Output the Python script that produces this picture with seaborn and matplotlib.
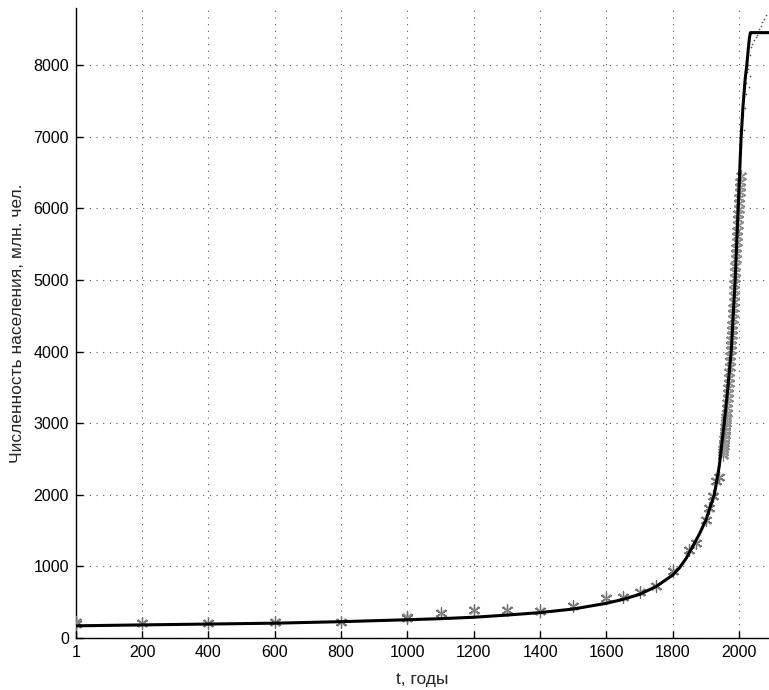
import numpy as np
import pandas as pd
import matplotlib
matplotlib.use("Agg")
import matplotlib.pyplot as plt
import seaborn as sns

# Model curve (year, population, mln)
curve_years = [1, 200, 400, 600, 800, 1000, 1100, 1200, 1300, 1400, 1500, 1600,
               1650, 1700, 1750, 1800, 1820, 1840, 1860, 1880, 1900, 1925, 1940, 1955,
               1965, 1976, 1988, 1997, 2006, 2012, 2018, 2023, 2028, 2031, 2034, 2090]
curve_values = [170, 183, 195, 207, 228, 255, 270, 290, 320, 355, 405, 485,
                540, 610, 720, 880, 980, 1110, 1280, 1450, 1650, 2000, 2400, 3000,
                3450, 4000, 5000, 6000, 7000, 7450, 7800, 8000, 8250, 8380, 8456, 8456]

# Historical estimates (markers)
hist_years = [1, 1, 200, 400, 600, 800, 1000, 1000, 1100, 1200, 1300, 1400, 1500,
              1600, 1650, 1700, 1750, 1800, 1850, 1870, 1900, 1910, 1920, 1930, 1940]
hist_values = [200, 230, 210, 205, 218, 225, 283, 300, 349, 395, 385, 372, 451,
               558, 572, 637, 730, 930, 1233, 1327, 1642, 1815, 1978, 2187, 2250]

# Annual data 1950-2005
mod_years = list(range(1950, 2006))
mod_values = [2557, 2594, 2636, 2682, 2730, 2782, 2835, 2891, 2948, 3001,
              3043, 3084, 3140, 3210, 3281, 3350, 3421, 3490, 3562, 3637,
              3713, 3790, 3867, 3942, 4017, 4089, 4160, 4232, 4304, 4379,
              4451, 4534, 4615, 4696, 4775, 4856, 4941, 5027, 5115, 5201,
              5289, 5372, 5453, 5533, 5612, 5690, 5768, 5846, 5922, 5998,
              6074, 6149, 6224, 6299, 6374, 6450]

# Projection dots
proj_years = [2012, 2015, 2018, 2020, 2022, 2024, 2026, 2028, 2030, 2032, 2034,
              2036, 2040, 2045, 2050, 2055, 2060, 2065, 2070, 2075, 2080]
proj_values = [7300, 7100, 7400, 7600, 7750, 7900, 8000, 7950, 7700, 7850, 8150,
               8250, 8300, 8350, 8400, 8420, 8500, 8550, 8600, 8650, 8700]

xticks = [1, 200, 400, 600, 800, 1000, 1200, 1400, 1600, 1800, 2000]
yticks = [0, 1000, 2000, 3000, 4000, 5000, 6000, 7000, 8000]

sns.set_style("white")
plt.rcParams['font.family'] = ['Liberation Sans', 'DejaVu Sans']

fig = plt.figure(figsize=(7.69, 6.90), dpi=100)
ax = fig.add_axes([76/769, 52/690, 1 - 76/769, 630/690])

curve_df = pd.DataFrame({"t": curve_years, "N": curve_values})
hist_df = pd.DataFrame({"t": hist_years, "N": hist_values})
mod_df = pd.DataFrame({"t": mod_years, "N": mod_values})
proj_df = pd.DataFrame({"t": proj_years, "N": proj_values})

ast = (6, 2, 0)
sns.scatterplot(data=hist_df, x="t", y="N", ax=ax, marker=ast, s=70,
                color="#6e6e6e", linewidth=0.9, zorder=3)
sns.scatterplot(data=hist_df, x="t", y="N", ax=ax, marker="x", s=35,
                color="#8a8a8a", linewidth=0.8, zorder=3)
sns.scatterplot(data=mod_df, x="t", y="N", ax=ax, marker=ast, s=70,
                color="#808080", linewidth=0.8, zorder=3)
sns.scatterplot(data=mod_df, x="t", y="N", ax=ax, marker="x", s=40,
                color="#9a9a9a", linewidth=0.8, zorder=3)
sns.scatterplot(data=proj_df, x="t", y="N", ax=ax, marker=".", s=6,
                color="#555555", linewidth=0, zorder=3)
sns.lineplot(data=curve_df, x="t", y="N", ax=ax, color="black", linewidth=2.2,
             zorder=4, estimator=None, sort=False)

ax.set_xlim(1, 2090)
ax.set_ylim(0, 8800)
ax.set_xticks(xticks)
ax.set_xticklabels([str(v) for v in xticks])
ax.set_yticks(yticks)
ax.set_yticklabels([str(v) for v in yticks])

ax.grid(True, linestyle=(0, (1, 5)), color="#555555", linewidth=0.8)
for s in ["top", "right"]:
    ax.spines[s].set_visible(False)
for s in ["left", "bottom"]:
    ax.spines[s].set_color("black")
    ax.spines[s].set_linewidth(1.0)

ax.tick_params(direction="in", length=5, width=1, labelsize=11.5, colors="black",
               left=True, bottom=True, pad=5)

ax.set_xlabel("t, годы", fontsize=12.5, labelpad=9)
ax.set_ylabel("Численность населения, млн. чел.", fontsize=12.5, labelpad=6)

fig.savefig("out.png", dpi=100)
